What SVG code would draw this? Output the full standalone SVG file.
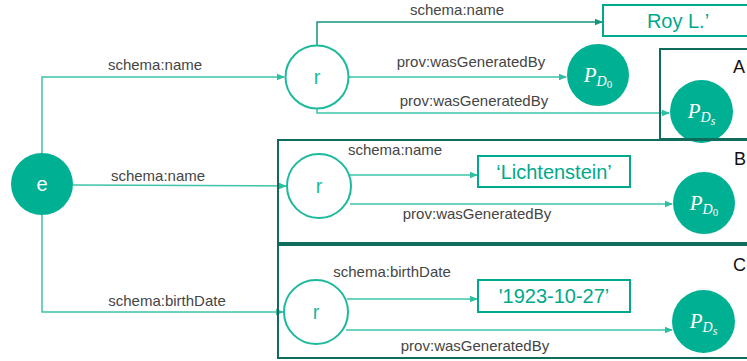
<svg xmlns="http://www.w3.org/2000/svg" width="747" height="361" viewBox="0 0 747 361">
  <defs>
    <marker id="arrow" viewBox="0 0 8 8" refX="7" refY="4" markerWidth="8" markerHeight="8" markerUnits="userSpaceOnUse" orient="auto">
      <path d="M0,0.8 L8,4 L0,7.2 Z" fill="#2fbea2"/>
    </marker>
    <marker id="arrowDark" viewBox="0 0 8 8" refX="7" refY="4" markerWidth="8" markerHeight="8" markerUnits="userSpaceOnUse" orient="auto">
      <path d="M0,0.8 L8,4 L0,7.2 Z" fill="#14957e"/>
    </marker>
  </defs>
  <style>
    .edge { fill: none; stroke: #3cc3a8; stroke-width: 1.5; marker-end: url(#arrow); }
    .edge.dark { stroke: #14957e; marker-end: url(#arrowDark); }
    .lbl { font-family: "Liberation Sans", Arial, sans-serif; font-size: 15px; fill: #454545; text-anchor: middle; }
    .frame { fill: none; stroke: #0f6c5c; stroke-width: 2; }
    .frame-lbl { font-family: "Liberation Sans", Arial, sans-serif; font-size: 18px; fill: #111; }
    .res { fill: #fff; stroke: #1db99c; stroke-width: 2; }
    .res-txt { font-family: "Liberation Sans", Arial, sans-serif; font-size: 20px; fill: #1db99c; text-anchor: middle; }
    .ent { fill: #00b093; }
    .ent-txt { font-family: "Liberation Sans", Arial, sans-serif; font-size: 20px; fill: #fff; text-anchor: middle; }
    .lit { fill: #fff; stroke: #00a98c; stroke-width: 2; }
    .lit-txt { font-family: "Liberation Sans", Arial, sans-serif; font-size: 20px; fill: #00a98c; text-anchor: middle; }
    .act { fill: #00b093; }
    .act-txt { font-family: "Liberation Serif", "DejaVu Serif", serif; fill: #fff; text-anchor: middle; }
  </style>

  <rect width="747" height="361" fill="#fff"/>

  <!-- connectors -->
  <g id="connectors">
    <path class="edge" d="M42,153 V77 H284"/>
    <path class="edge" d="M73,185 L286,186"/>
    <path class="edge" d="M42,215 V312 H283"/>
    <path class="edge dark" d="M317,45 V22 H602"/>
    <path class="edge" d="M349,77 H566"/>
    <path class="edge" d="M317,108 V113 H669"/>
    <path class="edge" d="M350,175 H477"/>
    <path class="edge" d="M350,204 H672"/>
    <path class="edge" d="M347,299 H477"/>
    <path class="edge" d="M346,330 H672"/>
  </g>

  <!-- connector labels -->
  <g id="edge-labels">
    <text class="lbl" x="155" y="70">schema:name</text>
    <text class="lbl" x="158" y="181">schema:name</text>
    <text class="lbl" x="167" y="306">schema:birthDate</text>
    <text class="lbl" x="457" y="15">schema:name</text>
    <text class="lbl" x="471" y="67">prov:wasGeneratedBy</text>
    <text class="lbl" x="474" y="106">prov:wasGeneratedBy</text>
    <text class="lbl" x="395" y="155">schema:name</text>
    <text class="lbl" x="477" y="219">prov:wasGeneratedBy</text>
    <text class="lbl" x="392" y="277">schema:birthDate</text>
    <text class="lbl" x="475" y="351">prov:wasGeneratedBy</text>
  </g>

  <!-- entity -->
  <g id="entity-e">
    <circle class="ent" cx="42" cy="184" r="31"/>
    <text class="ent-txt" x="42" y="191">e</text>
  </g>

  <!-- reified statements -->
  <g id="stmt-r1">
    <circle class="res" cx="317" cy="77" r="31.5"/>
    <text class="res-txt" x="317" y="84">r</text>
  </g>
  <g id="stmt-r2">
    <circle class="res" cx="319" cy="186" r="32"/>
    <text class="res-txt" x="319" y="193">r</text>
  </g>
  <g id="stmt-r3">
    <circle class="res" cx="316" cy="312" r="32"/>
    <text class="res-txt" x="316" y="319">r</text>
  </g>

  <!-- literals -->
  <g id="lit-roy">
    <rect class="lit" x="603" y="5" width="160" height="31"/>
    <text class="lit-txt" x="678" y="28">Roy L.’</text>
  </g>
  <g id="lit-lichtenstein">
    <rect class="lit" x="478" y="156" width="152" height="31"/>
    <text class="lit-txt" x="554" y="179">‘Lichtenstein’</text>
  </g>
  <g id="lit-birthdate">
    <rect class="lit" x="478" y="280" width="152" height="32"/>
    <text class="lit-txt" x="554" y="303">'1923-10-27’</text>
  </g>

  <!-- provenance activities -->
  <g id="act-pd0-top">
    <circle class="act" cx="598" cy="75" r="31"/>
    <text class="act-txt" x="598" y="82"><tspan font-size="21" font-style="italic">P</tspan><tspan font-size="14" font-style="italic" dy="4">D</tspan><tspan font-size="11" dy="2">0</tspan></text>
  </g>
  <g id="act-pds-a">
    <circle class="act" cx="701.5" cy="111.5" r="31.5"/>
    <text class="act-txt" x="701.5" y="118"><tspan font-size="21" font-style="italic">P</tspan><tspan font-size="14" font-style="italic" dy="4">D</tspan><tspan font-size="12" font-style="italic" dy="3">s</tspan></text>
  </g>
  <g id="act-pd0-b">
    <circle class="act" cx="704" cy="203" r="31"/>
    <text class="act-txt" x="704" y="210"><tspan font-size="21" font-style="italic">P</tspan><tspan font-size="14" font-style="italic" dy="4">D</tspan><tspan font-size="11" dy="2">0</tspan></text>
  </g>
  <g id="act-pds-c">
    <circle class="act" cx="703.5" cy="321.5" r="31.5"/>
    <text class="act-txt" x="703.5" y="328"><tspan font-size="21" font-style="italic">P</tspan><tspan font-size="14" font-style="italic" dy="4">D</tspan><tspan font-size="12" font-style="italic" dy="3">s</tspan></text>
  </g>

  <!-- source frames -->
  <g id="frame-a">
    <rect class="frame" x="660" y="49" width="100" height="90"/>
    <text class="frame-lbl" x="733" y="73">A</text>
  </g>
  <g id="frame-b">
    <rect class="frame" x="278" y="140" width="482" height="103"/>
    <text class="frame-lbl" x="734" y="165">B</text>
  </g>
  <g id="frame-c">
    <rect class="frame" x="278" y="245" width="482" height="113"/>
    <text class="frame-lbl" x="733" y="271">C</text>
  </g>
</svg>
